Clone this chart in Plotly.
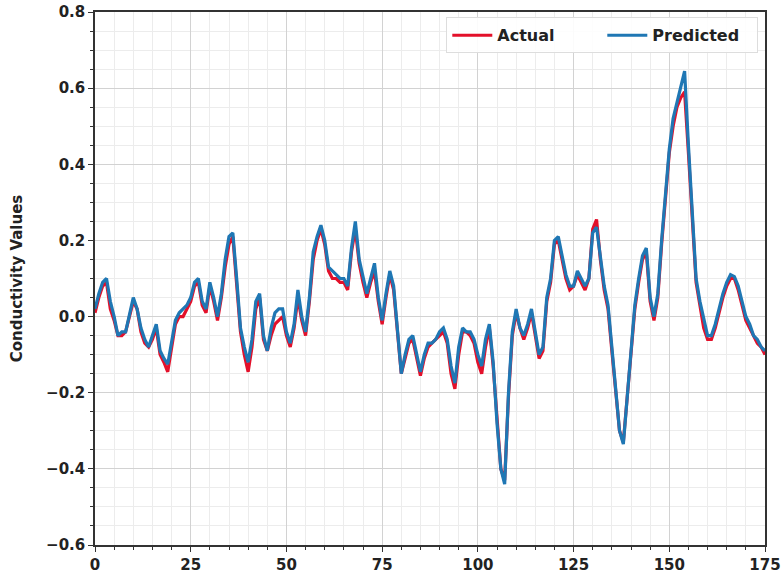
import plotly.graph_objects as go

x_index = list(range(176))

predicted = [
    0.02, 0.06, 0.09, 0.10, 0.04, 0.00, -0.05, -0.04, -0.04, 0.01,
    0.05, 0.02, -0.03, -0.06, -0.08, -0.05, -0.02, -0.09, -0.11, -0.125,
    -0.07, -0.01, 0.01, 0.02, 0.03, 0.05, 0.09, 0.10, 0.04, 0.02,
    0.09, 0.05, 0.00, 0.06, 0.15, 0.21, 0.22, 0.10, -0.03, -0.08,
    -0.12, -0.06, 0.04, 0.06, -0.05, -0.09, -0.03, 0.01, 0.02, 0.02,
    -0.04, -0.07, -0.02, 0.07, 0.00, -0.04, 0.05, 0.17, 0.21, 0.24,
    0.20, 0.13, 0.12, 0.11, 0.10, 0.10, 0.08, 0.18, 0.25, 0.15,
    0.10, 0.06, 0.10, 0.14, 0.05, -0.01, 0.06, 0.12, 0.08, -0.03,
    -0.15, -0.10, -0.06, -0.05, -0.10, -0.145, -0.10, -0.07, -0.07, -0.06,
    -0.04, -0.03, -0.06, -0.13, -0.175, -0.08, -0.03, -0.04, -0.04, -0.06,
    -0.10, -0.13, -0.06, -0.02, -0.12, -0.28, -0.40, -0.44, -0.20, -0.04,
    0.02, -0.03, -0.05, -0.02, 0.02, -0.04, -0.10, -0.08, 0.05, 0.10,
    0.20, 0.21, 0.16, 0.11, 0.08, 0.08, 0.12, 0.10, 0.08, 0.10,
    0.22, 0.235, 0.15, 0.08, 0.03, -0.08, -0.20, -0.30, -0.335, -0.22,
    -0.10, 0.03, 0.10, 0.16, 0.18, 0.05, 0.00, 0.06, 0.20, 0.32,
    0.44, 0.52, 0.56, 0.60, 0.645, 0.45, 0.28, 0.10, 0.04, -0.01,
    -0.05, -0.05, -0.02, 0.02, 0.06, 0.09, 0.11, 0.105, 0.08, 0.04,
    0.00, -0.02, -0.05, -0.06, -0.08, -0.09,
]

actual = [
    0.01, 0.05, 0.08, 0.09, 0.02, -0.01, -0.05, -0.05, -0.04, 0.00,
    0.04, 0.02, -0.04, -0.07, -0.08, -0.06, -0.03, -0.10, -0.12, -0.145,
    -0.08, -0.02, 0.00, 0.00, 0.02, 0.04, 0.08, 0.09, 0.03, 0.01,
    0.08, 0.04, -0.01, 0.05, 0.13, 0.19, 0.21, 0.09, -0.04, -0.10,
    -0.145, -0.08, 0.02, 0.05, -0.06, -0.09, -0.05, -0.02, -0.01, 0.00,
    -0.05, -0.08, -0.03, 0.05, -0.01, -0.05, 0.04, 0.15, 0.20, 0.23,
    0.19, 0.12, 0.10, 0.10, 0.09, 0.09, 0.07, 0.17, 0.23, 0.14,
    0.09, 0.05, 0.09, 0.12, 0.04, -0.02, 0.05, 0.11, 0.07, -0.04,
    -0.15, -0.11, -0.07, -0.06, -0.11, -0.155, -0.11, -0.08, -0.07, -0.06,
    -0.05, -0.04, -0.07, -0.15, -0.19, -0.10, -0.04, -0.04, -0.05, -0.07,
    -0.12, -0.15, -0.08, -0.03, -0.13, -0.28, -0.40, -0.43, -0.21, -0.05,
    0.01, -0.03, -0.06, -0.03, 0.01, -0.05, -0.11, -0.09, 0.04, 0.09,
    0.19, 0.20, 0.15, 0.10, 0.07, 0.08, 0.11, 0.09, 0.07, 0.10,
    0.23, 0.255, 0.15, 0.07, 0.02, -0.09, -0.20, -0.30, -0.33, -0.22,
    -0.10, 0.02, 0.09, 0.15, 0.17, 0.04, -0.01, 0.05, 0.19, 0.31,
    0.43, 0.50, 0.55, 0.575, 0.59, 0.43, 0.27, 0.09, 0.03, -0.03,
    -0.06, -0.06, -0.03, 0.01, 0.05, 0.08, 0.10, 0.10, 0.07, 0.03,
    -0.01, -0.03, -0.05, -0.07, -0.08, -0.10,
]

y_tick_vals = [-0.6, -0.4, -0.2, 0.0, 0.2, 0.4, 0.6, 0.8]
y_tick_text = ["\u22120.6", "\u22120.4", "\u22120.2", "0.0", "0.2", "0.4", "0.6", "0.8"]
x_tick_vals = [0, 25, 50, 75, 100, 125, 150, 175]

font_family = "DejaVu Sans"

fig = go.Figure()
fig.add_trace(go.Scatter(
    x=x_index, y=actual, mode="lines", name="Actual",
    line=dict(color="#e3102a", width=3.2),
))
fig.add_trace(go.Scatter(
    x=x_index, y=predicted, mode="lines", name="Predicted",
    line=dict(color="#1f77b4", width=3.2),
))

axis_common = dict(
    showline=True, linecolor="#333333", linewidth=1.5, mirror=True,
    ticks="outside", ticklen=5, tickwidth=1.2, tickcolor="#333333",
    showgrid=True, gridcolor="#d2d2d2", gridwidth=1,
    zeroline=False, automargin=False,
    tickfont=dict(family=font_family, size=15, color="#222222", weight="bold"),
)

fig.update_xaxes(
    range=[0, 175], tickvals=x_tick_vals,
    minor=dict(dtick=5, ticks="outside", ticklen=3, tickcolor="#333333",
               showgrid=True, gridcolor="#ececec", gridwidth=1),
    **axis_common,
)
fig.update_yaxes(
    range=[-0.6, 0.8], tickvals=y_tick_vals, ticktext=y_tick_text,
    minor=dict(dtick=0.05, tick0=0, ticks="outside", ticklen=3, tickcolor="#333333",
               showgrid=True, gridcolor="#ececec", gridwidth=1),
    title=dict(text="Conductivity Values", standoff=20,
               font=dict(family=font_family, size=15, color="#222222", weight="bold")),
    **axis_common,
)

fig.update_layout(
    width=781, height=576,
    margin=dict(l=95, r=16, t=12, b=31),
    plot_bgcolor="white", paper_bgcolor="white",
    showlegend=True,
    legend=dict(
        orientation="h", x=0.99, y=0.99, xanchor="right", yanchor="top",
        bgcolor="rgba(255,255,255,0.9)", bordercolor="#dddddd", borderwidth=1,
        font=dict(family=font_family, size=16, color="#222222", weight="bold"),
        itemwidth=40, entrywidth=100,
    ),
)

fig.write_html("out.html", config={"displayModeBar": False},
               post_script="document.body.style.margin='0px';")
